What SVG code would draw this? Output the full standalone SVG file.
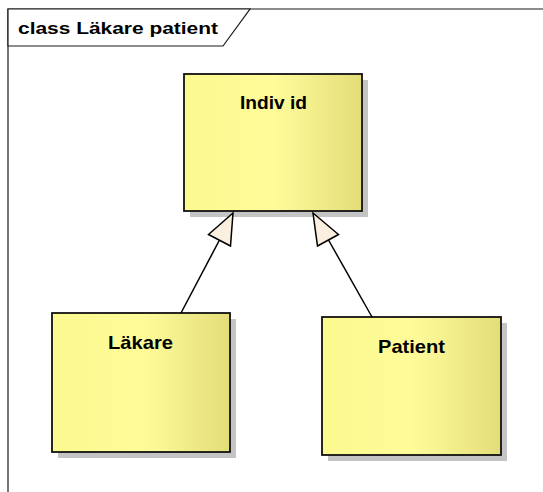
<svg xmlns="http://www.w3.org/2000/svg" width="543" height="492" viewBox="0 0 543 492">
  <style>
    .frame { fill: none; stroke: #1a1a1a; stroke-width: 1.2; }
    .tab { fill: #ffffff; stroke: #1a1a1a; stroke-width: 1.2; }
    .title { font-family: "Liberation Sans", Arial, sans-serif; font-weight: bold; font-size: 17px; fill: #000; }
    .shadow { fill: #c4c4c4; }
    .box { fill: url(#classFill); stroke: #111; stroke-width: 1.8; }
    .name { font-family: "Liberation Sans", Arial, sans-serif; font-weight: bold; font-size: 18.5px; fill: #000; text-anchor: middle; }
    .edge { fill: none; stroke: #000; stroke-width: 1.5; }
    .head { fill: #fbf0e0; stroke: #000; stroke-width: 1.5; stroke-linejoin: miter; }
  </style>
  <defs>
    <linearGradient id="classFill" x1="0" y1="0" x2="1" y2="0">
      <stop offset="0" stop-color="#fcf98f"/>
      <stop offset="0.5" stop-color="#fffb99"/>
      <stop offset="0.62" stop-color="#f9f594"/>
      <stop offset="1" stop-color="#e3dd78"/>
    </linearGradient>
  </defs>

  <rect width="543" height="492" fill="#ffffff"/>

  <!-- diagram frame with its name tab -->
  <g id="frame">
    <path class="frame" d="M8,492 V9 H543"/>
    <polygon class="tab" points="8,9 250,9 223,46 8,46"/>
    <text class="title" x="18" y="34" textLength="200" lengthAdjust="spacingAndGlyphs">class Läkare patient</text>
  </g>

  <!-- classes -->
  <g id="individ">
    <rect class="shadow" x="190" y="80" width="178" height="137"/>
    <rect class="box" x="184" y="74" width="178" height="137"/>
    <text class="name" x="273.5" y="109" textLength="67" lengthAdjust="spacingAndGlyphs">Indiv id</text>
  </g>

  <g id="lakare">
    <rect class="shadow" x="58" y="319" width="178" height="139"/>
    <rect class="box" x="52" y="313" width="178" height="139"/>
    <text class="name" x="140.5" y="349" textLength="65" lengthAdjust="spacingAndGlyphs">Läkare</text>
  </g>

  <g id="patient">
    <rect class="shadow" x="328" y="323" width="179" height="138"/>
    <rect class="box" x="322" y="317" width="179" height="138"/>
    <text class="name" x="411.5" y="353" textLength="67" lengthAdjust="spacingAndGlyphs">Patient</text>
  </g>

  <!-- generalization connectors -->
  <g id="connectors">
    <line class="edge" x1="181" y1="313" x2="219.5" y2="240"/>
    <polygon class="head" points="233,213 230.5,246 208.5,234.5"/>
    <line class="edge" x1="372" y1="317" x2="328.5" y2="240"/>
    <polygon class="head" points="313,213 338.5,234.5 317.5,246"/>
  </g>
</svg>
